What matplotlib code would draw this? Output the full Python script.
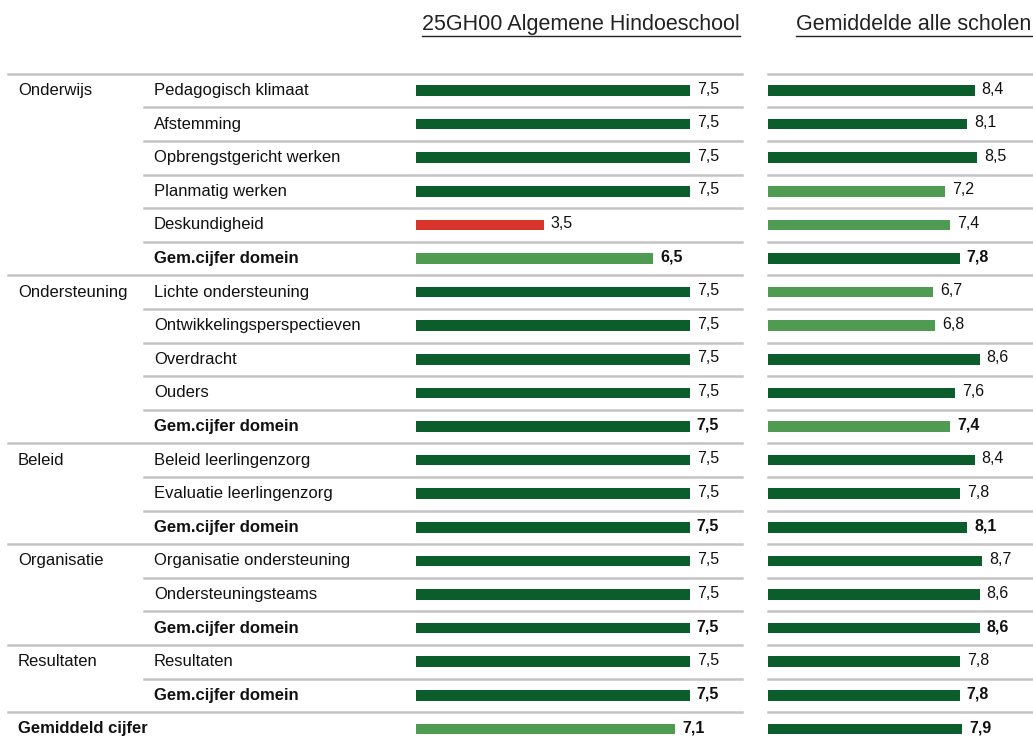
import matplotlib
matplotlib.use("Agg")
import matplotlib.pyplot as plt
from matplotlib.lines import Line2D

plt.rcParams['font.family'] = ['Liberation Sans', 'DejaVu Sans']

# --- data ---
groups = ["Onderwijs", "Ondersteuning", "Beleid", "Organisatie", "Resultaten"]
group_start = [0, 6, 11, 14, 17]
items = ["Pedagogisch klimaat", "Afstemming", "Opbrengstgericht werken",
         "Planmatig werken", "Deskundigheid", "Gem.cijfer domein",
         "Lichte ondersteuning", "Ontwikkelingsperspectieven", "Overdracht",
         "Ouders", "Gem.cijfer domein",
         "Beleid leerlingenzorg", "Evaluatie leerlingenzorg", "Gem.cijfer domein",
         "Organisatie ondersteuning", "Ondersteuningsteams", "Gem.cijfer domein",
         "Resultaten", "Gem.cijfer domein",
         "Gemiddeld cijfer"]
school = [7.5, 7.5, 7.5, 7.5, 3.5, 6.5,
          7.5, 7.5, 7.5, 7.5, 7.5,
          7.5, 7.5, 7.5,
          7.5, 7.5, 7.5,
          7.5, 7.5,
          7.1]
average = [8.4, 8.1, 8.5, 7.2, 7.4, 7.8,
           6.7, 6.8, 8.6, 7.6, 7.4,
           8.4, 7.8, 8.1,
           8.7, 8.6, 8.6,
           7.8, 7.8,
           7.9]
titles = ["25GH00 Algemene Hindoeschool", "Gemiddelde alle scholen"]

DARK = "#0b5e2b"
LIGHT = "#4e9b51"
RED = "#d9352c"
GRID = "#c4c4c4"
INK = "#111111"


def bar_color(v):
    if v < 5.5:
        return RED
    if v < 7.5:
        return LIGHT
    return DARK


W, H = 1033, 740
ROW0, ROWH = 90.5, 33.6
n = len(items)
ylim = ((H - ROW0) / ROWH, -ROW0 / ROWH)

fig = plt.figure(figsize=(W / 100, H / 100), dpi=100)

# overlay axes in pixel x, row y
ov = fig.add_axes([0, 0, 1, 1])
ov.set_xlim(0, W)
ov.set_ylim(*ylim)
ov.axis("off")

total_row = n - 1
for i in range(n):
    x0 = 8 if (i in group_start or i == total_row) else 144
    ov.add_line(Line2D([x0, 742], [i - 0.5, i - 0.5], color=GRID, lw=1.8))
    ov.add_line(Line2D([768, W], [i - 0.5, i - 0.5], color=GRID, lw=1.8))

for g, s in zip(groups, group_start):
    ov.text(18, s, g, fontsize=12, va="center", ha="left", color=INK)

for i, lab in enumerate(items):
    bold = lab.startswith("Gem")
    x = 18 if i == total_row else 154
    ov.text(x, i, lab, fontsize=12, va="center", ha="left",
            fontweight="bold" if bold else "normal", color=INK)

# bar axes
panels = [
    (school, [400 / W, 0, 342 / W, 1], (-16 / 36.5, 326 / 36.5)),
    (average, [768 / W, 0, 265 / W, 1], (0, 265 / 24.6)),
]
for vals, rect, xl in panels:
    ax = fig.add_axes(rect)
    ax.patch.set_alpha(0)
    ax.barh(range(n), vals, height=0.32, color=[bar_color(v) for v in vals])
    ax.set_xlim(*xl)
    ax.set_ylim(*ylim)
    ax.axis("off")
    for i, v in enumerate(vals):
        bold = items[i].startswith("Gem")
        ax.annotate(f"{v:.1f}".replace(".", ","), (v, i), xytext=(5, 1),
                    textcoords="offset points", va="center", ha="left",
                    fontsize=11.5, fontweight="bold" if bold else "normal",
                    color=INK)

# headers with underline
hdr = []
for xc, t in zip([581, 914], titles):
    hdr.append(ov.text(xc, -1.95, t, fontsize=15.5, ha="center", va="center",
                       color="#222222"))
fig.canvas.draw()
inv = ov.transData.inverted()
for t in hdr:
    bb = t.get_window_extent()
    (xa, yb), (xb, _) = inv.transform([(bb.x0, bb.y0 - 1), (bb.x1, bb.y1)])
    ov.add_line(Line2D([xa, xb], [yb, yb], color="#222222", lw=1.0))

fig.savefig("out.png", dpi=100)
